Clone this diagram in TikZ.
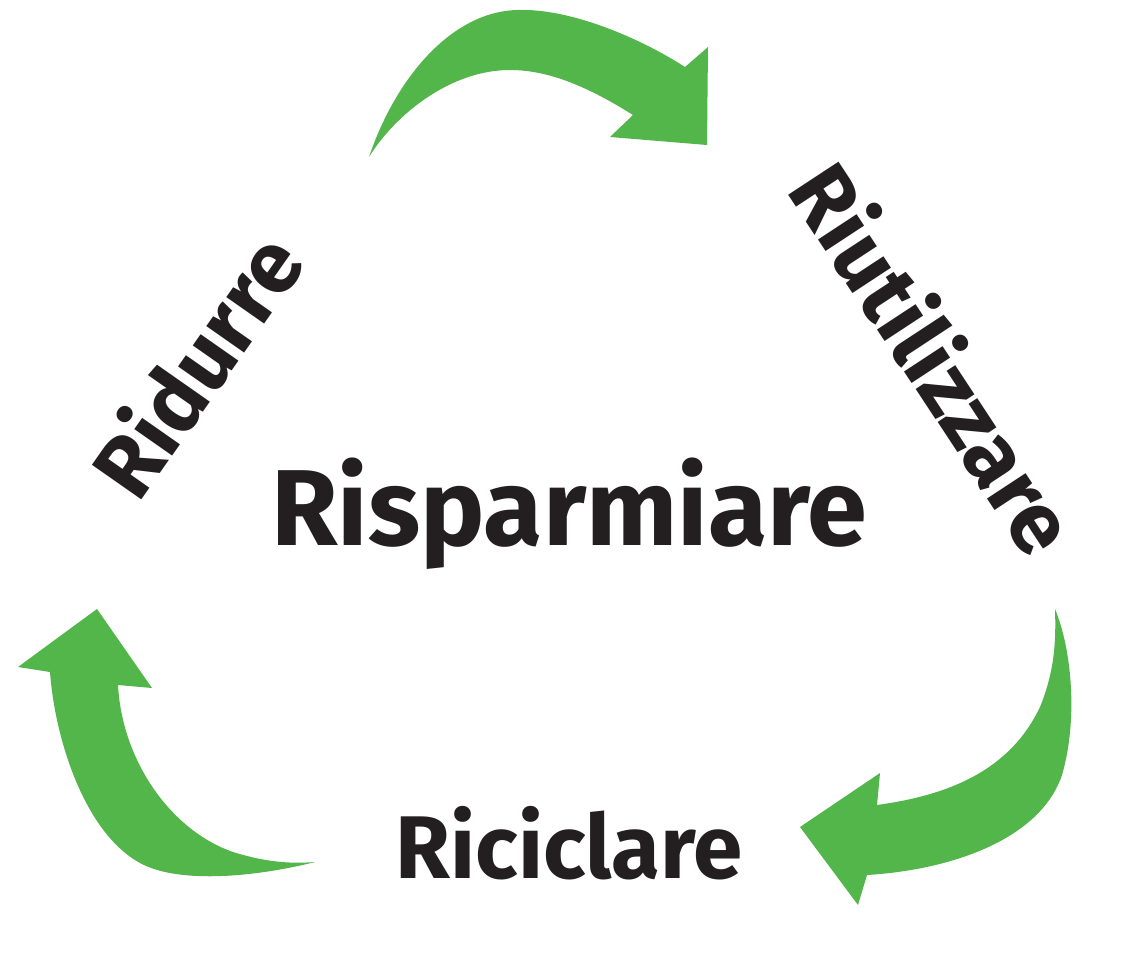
\documentclass[tikz,border=0pt]{standalone}
\usepackage{fontspec}
\setmainfont{Fira Sans}
\definecolor{leaf}{RGB}{82,182,74}
\definecolor{ink}{RGB}{35,31,32}
\begin{document}
\begin{tikzpicture}[x=1pt,y=-1pt,
  greenarrow/.style={fill=leaf,draw=none},
  word/.style={text=ink,inner sep=0pt}]
\useasboundingbox (0,0) rectangle (1131,952);
\fill[white] (0,0) rectangle (1131,952);
% top arrow
\fill[greenarrow] (369,157) .. controls (395,80) and (450,12) .. (517,10)
  .. controls (570,8) and (640,38) .. (685,67)
  -- (708,47) -- (707,145) -- (610,137) -- (633,115)
  .. controls (590,88) and (550,70) .. (510,70)
  .. controls (450,70) and (395,115) .. (369,157) -- cycle;
% bottom-right arrow
\fill[greenarrow] (1055,609) .. controls (1072,650) and (1078,720) .. (1062,775)
  .. controls (1040,840) and (950,870) .. (867,875)
  -- (858,905) -- (800,827) -- (880,773) -- (877,805)
  .. controls (950,795) and (1010,770) .. (1040,707)
  .. controls (1055,670) and (1056,640) .. (1055,609) -- cycle;
% bottom-left arrow
\fill[greenarrow] (315,862) .. controls (260,876) and (180,885) .. (140,863)
  .. controls (85,833) and (55,740) .. (50,672)
  -- (18,667) -- (52,642) -- (97,609) -- (152,688) -- (118,685)
  .. controls (122,760) and (170,830) .. (233,852)
  .. controls (265,862) and (290,864) .. (315,862) -- cycle;
% texts
\node[word,anchor=base,font=\bfseries\fontsize{108}{120}\selectfont] (center) at (569,545) {Risparmiare};
\node[word,anchor=base,font=\bfseries\fontsize{89}{100}\selectfont] (ricic) at (569,878) {Riciclare};
\node[word,rotate=55,font=\bfseries\fontsize{87}{100}\selectfont] (ridur) at (195,364) {Ridurre};
\node[word,rotate=-56.7,font=\bfseries\fontsize{87}{100}\selectfont] (riuti) at (936,357) {Riutilizzare};
\end{tikzpicture}
\end{document}
